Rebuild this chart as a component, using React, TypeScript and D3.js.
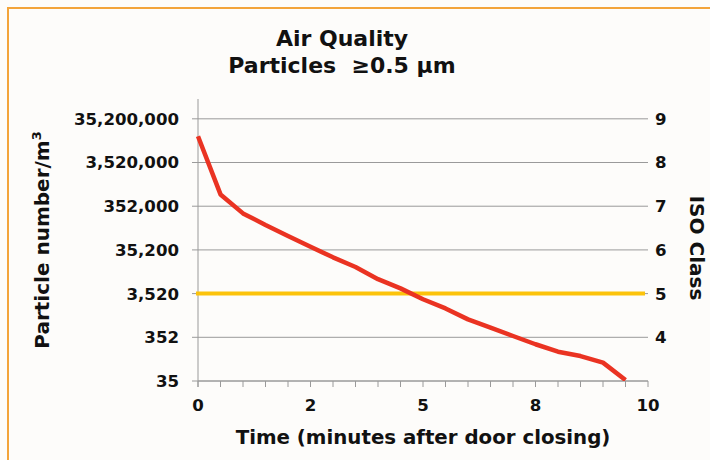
import React from "react";
import * as d3 from "d3";

const timeMinutes = [0, 0.5, 1, 1.5, 2, 2.5, 3, 3.5, 4, 4.5, 5, 5.5, 6, 6.5, 7, 7.5, 8, 8.5, 9, 9.5];
const particleCounts = [14000000, 655000, 241000, 131000, 73600, 41400, 23800, 14300, 7530, 4640, 2610, 1610, 905, 584, 377, 244, 165, 131, 92.6, 37];
const isoLimitValue = 3520;

const leftTickValues = [35.2, 352, 3520, 35200, 352000, 3520000, 35200000];
const leftTickLabels = ["35", "352", "3,520", "35,200", "352,000", "3,520,000", "35,200,000"];
const rightTickValues = [4, 5, 6, 7, 8, 9];
const xLabelValues = [0, 2.5, 5, 7.5, 10];
const xLabelTexts = ["0", "2", "5", "8", "10"];
const xMinorTicks = d3.range(0, 10.01, 0.5);

const W = 710, H = 460;
const left = 198, right = 648, top = 99, bottom = 381;
const yMin = 35.2, yMax = 1e8;

const FONT = "'DejaVu Sans', Verdana, sans-serif";

export default function App() {
  const x = d3.scaleLinear().domain([0, 10]).range([left, right]);
  const y = d3.scaleLog().domain([yMin, yMax]).range([bottom, top]);
  const yIso = d3.scaleLinear().domain([3, 3 + Math.log10(yMax / yMin)]).range([bottom, top]);
  const line = d3.line<number>().x((_, i) => x(timeMinutes[i])).y((d) => y(d));
  const redPath = line(particleCounts) || "";

  return (
    <svg width={W} height={H} style={{ position: "absolute", left: 0, top: 0, background: "#fdfcfa" }} fontFamily={FONT}>
      <defs>
        <clipPath id="plotclip">
          <rect x={left - 5} y={top} width={right - left + 10} height={bottom - top} />
        </clipPath>
      </defs>
      <rect x={0} y={0} width={W} height={H} fill="#fdfcfa" />
      <rect x={8} y={8} width={W + 20} height={H + 20} fill="none" stroke="#f3a43a" strokeWidth={2} />

      <text x={342} y={46} textAnchor="middle" fontSize={22} fontWeight="bold" fill="#111">Air Quality</text>
      <text x={342} y={73} textAnchor="middle" fontSize={22} fontWeight="bold" fill="#111" style={{ whiteSpace: "pre" }}>{"Particles  \u22650.5 \u00b5m"}</text>

      {/* gridlines and left ticks */}
      {leftTickValues.map((v, i) => (
        <g key={"l" + i}>
          <line x1={left - 6} x2={right} y1={y(v)} y2={y(v)} stroke="#9a9a9a" strokeWidth={1} />
          <text x={179} y={y(v)} dy="0.36em" textAnchor="end" fontSize={16.6} fontWeight="bold" fill="#111">{leftTickLabels[i]}</text>
        </g>
      ))}
      {rightTickValues.map((v) => (
        <text key={"r" + v} x={655} y={yIso(v)} dy="0.36em" textAnchor="start" fontSize={16.6} fontWeight="bold" fill="#111">{v}</text>
      ))}

      {/* axes */}
      <line x1={left} x2={left} y1={top} y2={bottom + 6} stroke="#9a9a9a" strokeWidth={1} />
      <line x1={left} x2={right} y1={bottom} y2={bottom} stroke="#9a9a9a" strokeWidth={1} />
      {xMinorTicks.map((t) => (
        <line key={"xt" + t} x1={x(t)} x2={x(t)} y1={bottom} y2={bottom + 6} stroke="#9a9a9a" strokeWidth={1} />
      ))}
      {xLabelValues.map((t, i) => (
        <text key={"xl" + t} x={x(t)} y={411} textAnchor="middle" fontSize={16.6} fontWeight="bold" fill="#111">{xLabelTexts[i]}</text>
      ))}

      {/* series */}
      <line x1={left - 2} x2={right - 3} y1={y(isoLimitValue)} y2={y(isoLimitValue)} stroke="#fcc30b" strokeWidth={4} />
      <path d={redPath} fill="none" stroke="#ea3322" strokeWidth={4.5} strokeLinejoin="round" clipPath="url(#plotclip)" />

      {/* axis titles */}
      <text x={423} y={444} textAnchor="middle" fontSize={19.8} fontWeight="bold" fill="#111">Time (minutes after door closing)</text>
      <text transform={`translate(49,${(top + bottom) / 2}) rotate(-90)`} textAnchor="middle" fontSize={20} fontWeight="bold" fill="#111">
        Particle number/m<tspan fontSize={13} dy={-8}>3</tspan>
      </text>
      <text transform={`translate(690,248) rotate(90)`} textAnchor="middle" fontSize={20} fontWeight="bold" fill="#111">ISO Class</text>
    </svg>
  );
}
